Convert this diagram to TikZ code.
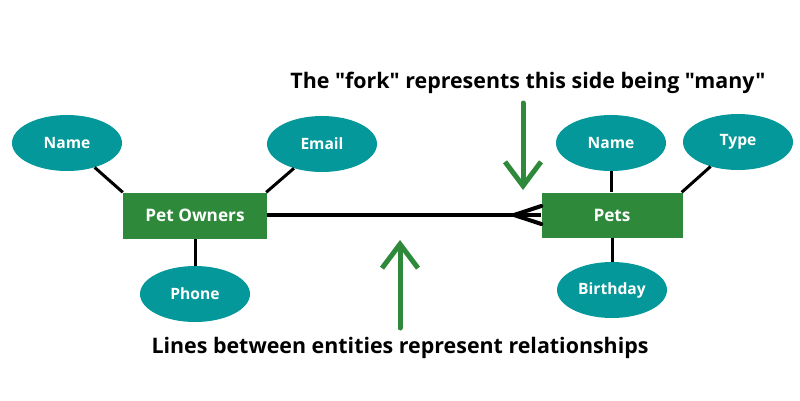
\documentclass[tikz,border=0pt]{standalone}
\usepackage{fontspec}
\setmainfont{Open Sans}[UprightFont=* Bold,Ligatures=TeXOff]
\usetikzlibrary{arrows.meta,shapes.geometric}
\definecolor{entgreen}{HTML}{2E8A3A}
\definecolor{attteal}{HTML}{05989A}
\begin{document}
\begin{tikzpicture}[x=1pt,y=-1pt,
  entity/.style={rectangle,fill=entgreen,text=white,minimum width=144pt,minimum height=46pt,inner sep=0pt,font=\fontsize{17.2}{20}\selectfont},
  attr/.style={ellipse,fill=attteal,text=white,minimum width=110pt,minimum height=56pt,inner sep=0pt,font=\fontsize{15.6}{18}\selectfont},
  link/.style={draw=black,line width=3pt},
  rel/.style={draw=black,line width=4pt},
  note/.style={draw=entgreen,line width=5pt,line cap=round,-{Straight Barb[length=24pt,width=36pt,line width=5pt]}},
  caption/.style={font=\fontsize{21.4}{25}\selectfont,text=black,inner sep=0pt}]
\useasboundingbox (0,0) rectangle (800,400);
\node[entity] (po) at (195,215.5) {Pet Owners};
\node[entity,minimum width=141pt,minimum height=45pt] (pets) at (612,215) {Pets};
\node[attr] (n1) at (67,143) {Name};
\node[attr] (em) at (322,144) {Email};
\node[attr] (ph) at (195,294) {Phone};
\node[attr] (n2) at (611,143) {Name};
\node[attr] (ty) at (738,142) {Type};
\node[attr] (bd) at (612,290) {Birthday};
\draw[link] (n1) -- (po.north west);
\draw[link] (em) -- ([xshift=-1pt]po.north east);
\draw[link] (ph) -- (po);
\draw[link] (n2) -- (pets.north -| n2);
\draw[link] (ty) -- ([xshift=-1pt]pets.north east);
\draw[link] (pets.south) -- (bd);
\coordinate (fork) at (514,215);
\draw[rel] (po.east |- pets.west) -- (pets.west);
\draw[rel,line cap=round] ([yshift=9pt]pets.west) -- (fork) -- ([yshift=-9pt]pets.west);
\node[caption] (top) at (528,83) {The "fork" represents this side being "many"};
\node[caption] (bot) at (400,348) {Lines between entities represent relationships};
\coordinate (a1s) at (523,103);
\coordinate (a1e) at (523,190);
\coordinate (a2s) at (400,328);
\coordinate (a2e) at (400,240);
\draw[note] (a1s) -- (a1e);
\draw[note] (a2s) -- (a2e);
\end{tikzpicture}
\end{document}
